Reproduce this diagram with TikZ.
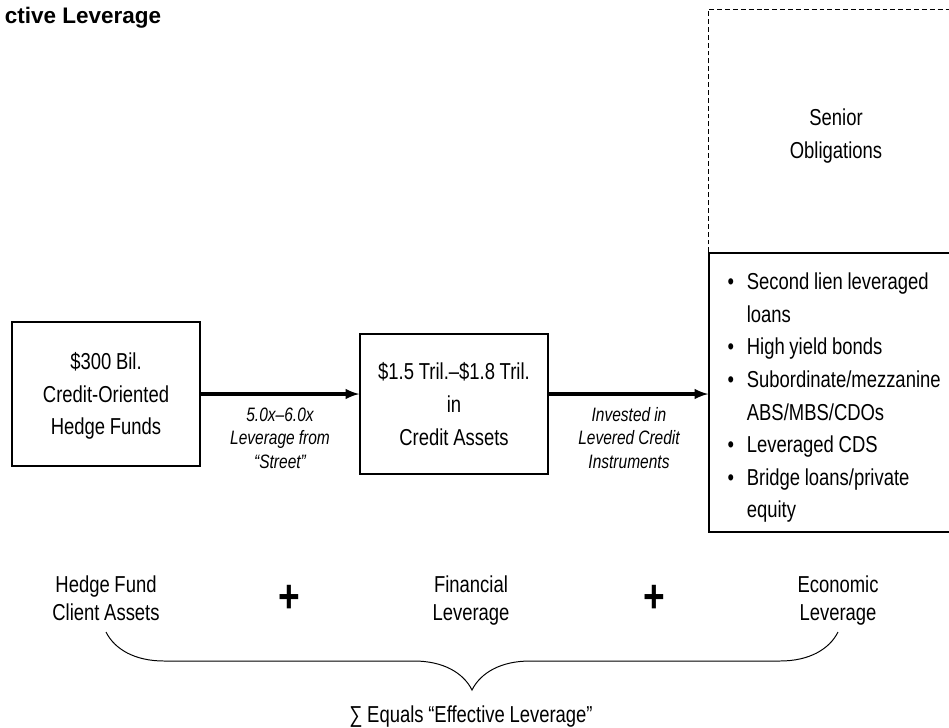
\documentclass[tikz,border=0pt]{standalone}
\usepackage{fontspec}
\setmainfont{Liberation Sans}[FakeStretch=0.8,WordSpace=0.92]
\newfontfamily\headfont{Liberation Sans}
\usetikzlibrary{decorations.pathreplacing}
\tikzset{
  >=latex
}

\begin{document}
\begin{tikzpicture}[
    frame/.style={draw,line width=1pt},
    boxtext/.style={align=center,font=\fontsize{16.4}{23.2}\selectfont},
    arrlabel/.style={align=center,font=\fontsize{13.8}{16.7}\selectfont\itshape},
    partlabel/.style={align=center,font=\fontsize{16.4}{19.6}\selectfont},
    plus/.style={font=\fontsize{33}{33}\selectfont\bfseries}]
  \useasboundingbox (0,0) rectangle (23.725,-18.175);
  \clip (0,0) rectangle (23.725,-18.175);
  \node[anchor=base west,font=\headfont\fontsize{16}{18}\selectfont\bfseries]
    (title) at (0,-0.575) {ctive Leverage};
  % boxes
  \node[frame,minimum width=4.7cm,minimum height=3.6cm] (fund) at (2.65,-9.85) {};
  \node[boxtext] (fundtext) at (2.65,-9.9) {\$300 Bil.\\Credit-Oriented\\Hedge Funds};
  \node[frame,minimum width=4.7cm,minimum height=3.5cm] (assets) at (11.35,-10.1) {};
  \node[boxtext] (assetstext) at (assets) {\$1.5 Tril.–\$1.8 Tril.\\in\\Credit Assets};
  \node[frame,minimum width=6.35cm,minimum height=6.975cm] (junior) at (20.9,-9.8125) {};
  \draw[line width=.7pt,dash pattern=on 3.5pt off 2.1pt]
    (junior.north west) -- ++(0,6.075) -| (junior.north east);
  \node[boxtext] (senior) at (20.9,-3.4) {Senior\\Obligations};
  \node[boxtext,anchor=west] (list) at ([xshift=.36cm,yshift=-.12cm]junior.west)
    {\begin{tabular}{@{}p{.48cm}@{}l@{}}
      \textbullet & Second lien leveraged\\
      & loans\\
      \textbullet & High yield bonds\\
      \textbullet & Subordinate/mezzanine\\
      & ABS/MBS/CDOs\\
      \textbullet & Leveraged CDS\\
      \textbullet & Bridge loans/private\\
      & equity
    \end{tabular}};
  % arrows
  \draw[->,line width=2.3pt] (fund.east) -- (fund.east -| assets.west);
  \draw[->,line width=2.3pt] (assets.east |- fund.east) -- (fund.east -| junior.west);
  \node[arrlabel] (street) at (7.0,-10.95) {5.0x–6.0x\\Leverage from\\“Street”};
  \node[arrlabel] (invest) at (15.725,-10.95) {Invested in\\Levered Credit\\Instruments};
  % bottom
  \node[partlabel] (client) at (2.65,-14.95) {Hedge Fund\\Client Assets};
  \node[plus] (plusa) at (7.225,-14.98) {+};
  \node[partlabel] (finlev) at (11.775,-15.02) {Financial\\Leverage};
  \node[plus] (plusb) at (16.35,-14.98) {+};
  \node[partlabel] (ecolev) at (20.95,-15.02) {Economic\\Leverage};
  \draw[line width=.7pt,decorate,decoration={brace,mirror,amplitude=1.45cm}]
    (2.65,-15.8) -- (20.95,-15.8);
  \node[partlabel] (sum) at (11.775,-17.92) {∑ Equals “Effective Leverage”};
\end{tikzpicture}
\end{document}
